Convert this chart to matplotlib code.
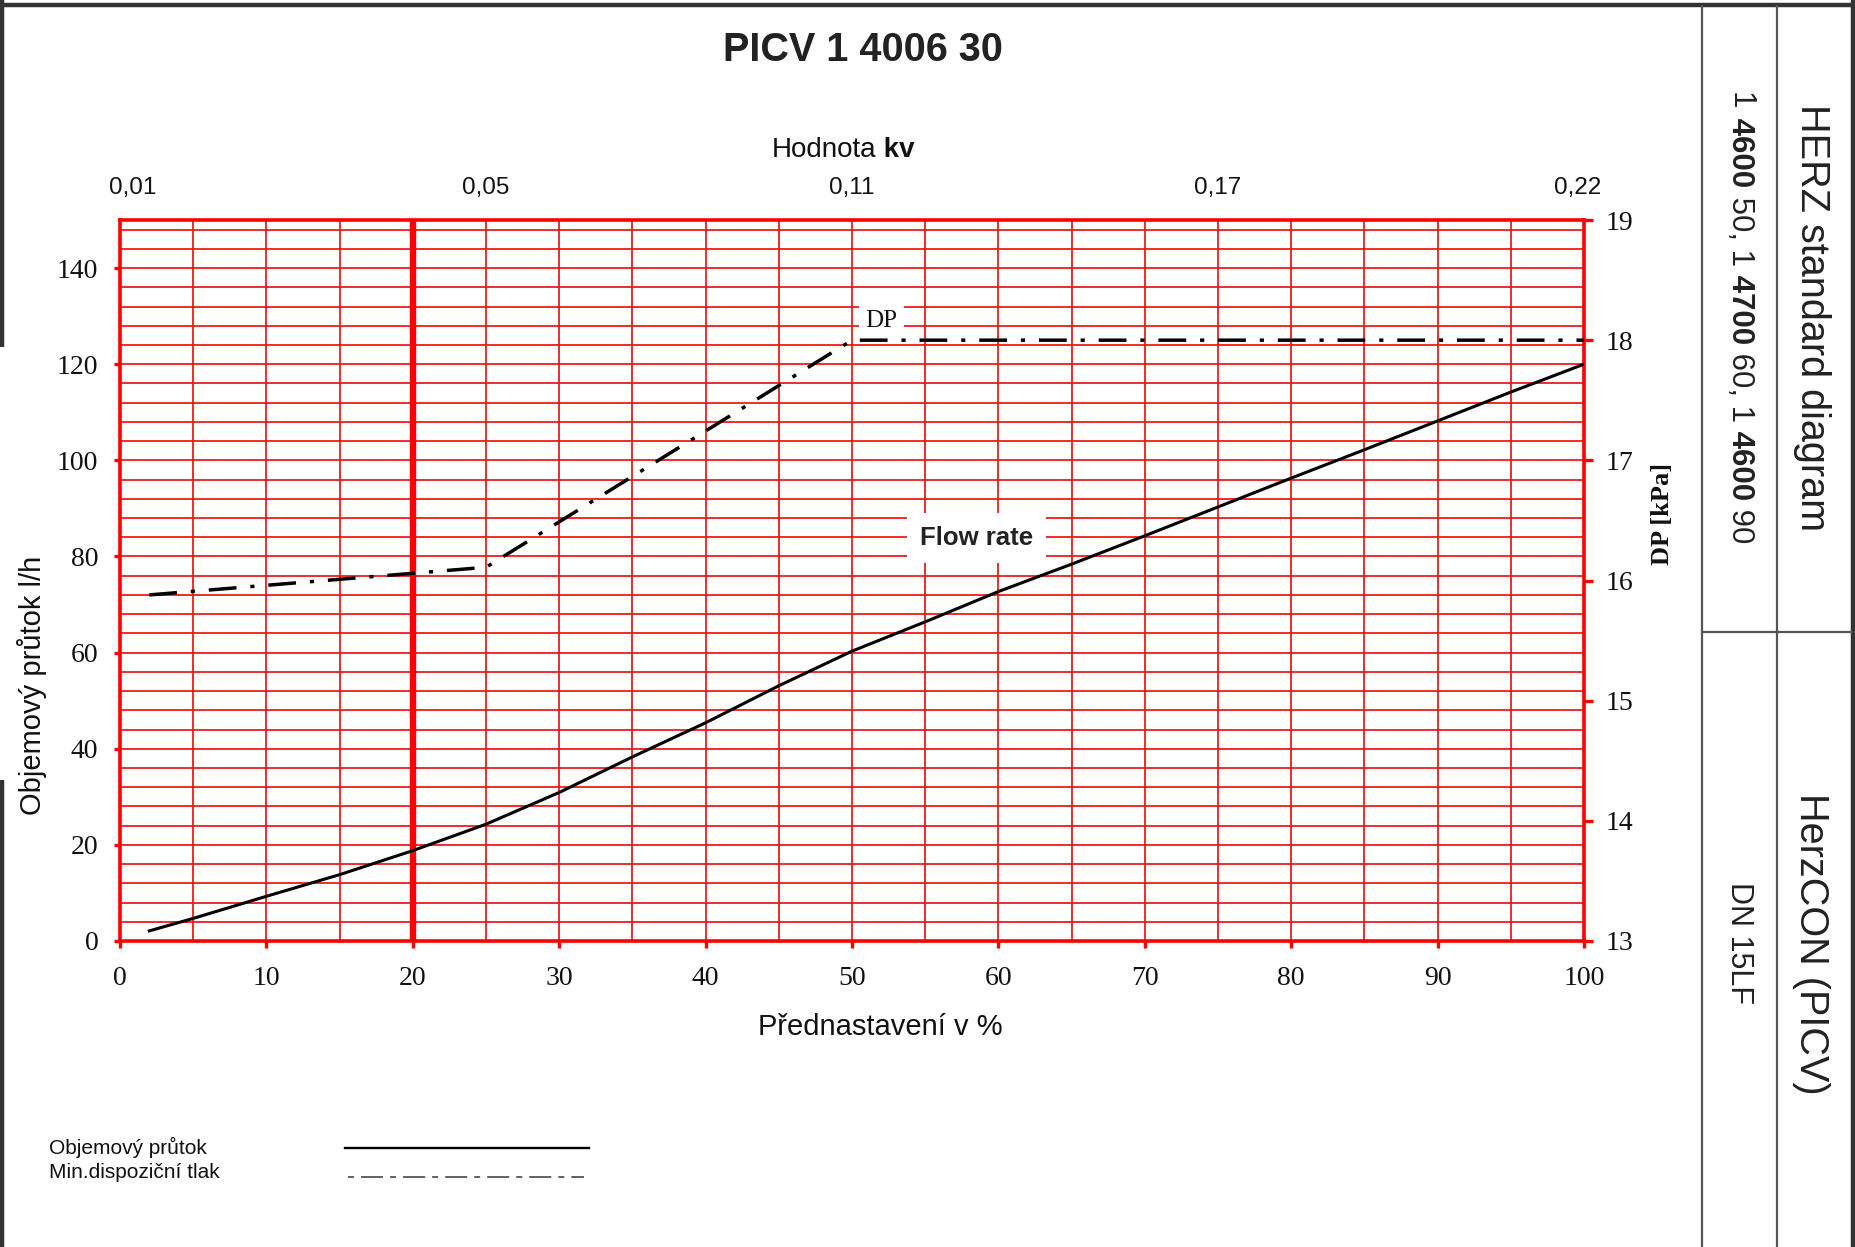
import matplotlib
matplotlib.use("Agg")
import matplotlib.pyplot as plt
from matplotlib.lines import Line2D
from matplotlib import font_manager
import matplotlib.transforms as mtransforms
import numpy as np

plt.rcParams['font.family'] = ['Liberation Sans', 'DejaVu Sans']

# ---------------- data ----------------
preset_flow = [2, 5, 10, 15, 20, 25, 30, 35, 40, 45, 50, 55, 60, 65, 70, 75, 80, 85, 90, 95, 100]
flow_lh = [2.1, 4.7, 9.3, 13.8, 18.8, 24.3, 30.9, 38.3, 45.4, 53.1, 60.3, 66.4, 72.7, 78.4,
           84.3, 90.3, 96.3, 102.2, 108.2, 114.2, 120.0]

preset_dp = [2, 25, 50, 100]
dp_kpa = [15.88, 16.11, 18.0, 18.0]

x_ticks = [0, 10, 20, 30, 40, 50, 60, 70, 80, 90, 100]
y_left_ticks = [0, 20, 40, 60, 80, 100, 120, 140]
y_right_ticks = [13, 14, 15, 16, 17, 18, 19]
kv_preset = [0, 25, 50, 75, 100]
kv_labels = ['0,01', '0,05', '0,11', '0,17', '0,22']
highlight_preset = 20

# ---------------- figure ----------------
W, H = 1856, 1247
fig = plt.figure(figsize=(W / 100, H / 100), dpi=100)


def fx(px):
    return px / W


def fy(py):
    return 1 - py / H


RED = '#ff0000'
GRID = '#f01212'
FRAME = '#333333'
SERIF = 'Liberation Serif'

installed = {f.name for f in font_manager.fontManager.ttflist}
if 'Liberation Sans Narrow' in installed:
    KV_FONT, KV_SIZE = 'Liberation Sans Narrow', 19.5
else:
    KV_FONT, KV_SIZE = 'Liberation Sans', 17.5

ax = fig.add_axes([fx(120), fy(941), fx(1584) - fx(120), fy(220) - fy(941)])
ax.set_xlim(0, 100)
ax.set_ylim(0, 150)

# grid
ax.set_xticks(x_ticks)
ax.set_xticks(np.arange(0, 101, 5), minor=True)
ax.set_yticks(y_left_ticks)
ax.set_yticks(np.arange(0, 150, 4), minor=True)
ax.grid(True, which='both', color=GRID, linewidth=1.25)
ax.set_axisbelow(True)
ax.set_xticklabels([str(t) for t in x_ticks], fontfamily=SERIF, fontsize=20, color='#111111')
ax.set_yticklabels([str(t) for t in y_left_ticks], fontfamily=SERIF, fontsize=20, color='#111111')
ax.tick_params(which='minor', length=0)
ax.tick_params(axis='x', which='major', direction='out', length=5, width=2.4, color=RED, pad=13,
               bottom=True, top=False)
ax.tick_params(axis='y', which='major', direction='out', length=4.5, width=2.4, color=RED, pad=11,
               left=True, right=False)
for s in ax.spines.values():
    s.set_color(RED)
    s.set_linewidth(2.6)

ax.axvline(highlight_preset, color=RED, linewidth=4.6, zorder=1.5)

# flow rate line
ax.plot(preset_flow, flow_lh, color='black', linewidth=2.2, zorder=3)
ax.text(58.5, 83.8, 'Flow rate', fontsize=18.5, fontweight='bold', color='#222222',
        ha='center', va='center', zorder=4,
        bbox=dict(facecolor='white', edgecolor='none', boxstyle='square,pad=0.5'))

# right axis (DP)
ax2 = ax.twinx()
ax2.set_ylim(13, 19)
ax2.set_yticks(y_right_ticks)
ax2.set_yticklabels([str(t) for t in y_right_ticks], fontfamily=SERIF, fontsize=20, color='#111111')
ax2.tick_params(axis='y', direction='out', length=6.5, width=2.4, color=RED, pad=9)
for s in ax2.spines.values():
    s.set_visible(False)
ax2.plot(preset_dp, dp_kpa, color='black', linewidth=2.5, dashes=(8, 4, 1.2, 4), zorder=3)
ax2.text(52.0, 18.16, 'DP', fontsize=18, fontfamily=SERIF, color='#111111',
         ha='center', va='center', zorder=4,
         bbox=dict(facecolor='white', edgecolor='none', boxstyle='square,pad=0.25'))

# top axis (kv)
ax3 = ax.twiny()
ax3.set_xlim(0, 100)
ax3.set_xticks(kv_preset)
ax3.set_xticklabels(kv_labels, fontsize=KV_SIZE, fontfamily=KV_FONT, color='#111111')
ax3.tick_params(axis='x', length=0, pad=15)
for s in ax3.spines.values():
    s.set_visible(False)
kv_texts = ax3.get_xticklabels()
kv_texts[0].set_transform(kv_texts[0].get_transform() +
                          mtransforms.ScaledTranslation(13 / 100, 0, fig.dpi_scale_trans))
kv_texts[-1].set_transform(kv_texts[-1].get_transform() +
                           mtransforms.ScaledTranslation(-6 / 100, 0, fig.dpi_scale_trans))

renderer = fig.canvas.get_renderer()

# title and axis labels
fig.text(fx(863), fy(50), 'PICV 1 4006 30', fontsize=28.5, fontweight='bold', color='#222222',
         ha='center', va='center')
fig.text(fx(880), fy(1027), 'Přednastavení v %', fontsize=21, color='#111111', ha='center', va='center')
fig.text(fx(32), fy(685), 'Objemový průtok l/h', fontsize=21, color='#111111', rotation=90,
         ha='center', va='center')
fig.text(fx(1663), fy(514), 'DP [kPa]', fontsize=19, fontweight='bold', fontfamily=SERIF,
         color='#111111', rotation=90, ha='center', va='center')

# "Hodnota kv"
t1 = fig.text(fx(772), fy(150), 'Hodnota', fontsize=20, color='#111111', ha='left', va='center')
bb = t1.get_window_extent(renderer)
fig.text((bb.x1) / W, fy(150), ' kv', fontsize=20, fontweight='bold', color='#111111',
         ha='left', va='center')

# right panel texts
fig.text(fx(1812), fy(318), 'HERZ standard diagram', fontsize=28.5, color='#222222', rotation=270,
         ha='center', va='center')
fig.text(fx(1811), fy(944), 'HerzCON (PICV)', fontsize=28.5, color='#222222', rotation=270,
         ha='center', va='center')
fig.text(fx(1739), fy(943), 'DN 15LF', fontsize=22, color='#222222', rotation=270,
         ha='center', va='center')

parts = [('1', 'normal'), (' 4600', 'bold'), (' 50, 1', 'normal'), (' 4700', 'bold'),
         (' 60, 1', 'normal'), (' 4600', 'bold'), (' 90', 'normal')]
ycur = 92
for txt, wgt in parts:
    t = fig.text(fx(1740), fy(ycur), txt, fontsize=22.5, fontweight=wgt, color='#222222',
                 rotation=270, rotation_mode='anchor', ha='left', va='center')
    e = t.get_window_extent(renderer)
    ycur += e.height

# frame lines
def fline(x0, y0, x1, y1, lw, color=FRAME):
    fig.add_artist(Line2D([fx(x0), fx(x1)], [fy(y0), fy(y1)], transform=fig.transFigure,
                          color=color, linewidth=lw, solid_capstyle='butt'))

fline(0, 5, 1856, 5, 3.2)
fline(1853, 0, 1853, 1247, 3.2)
fline(2, 0, 2, 347, 3.2)
fline(2, 780, 2, 1247, 3.2)
fline(1702, 5, 1702, 1247, 1.6, '#555555')
fline(1777, 5, 1777, 1247, 1.6, '#555555')
fline(1702, 632, 1853, 632, 1.6, '#555555')

# legend
fig.text(fx(49), fy(1147), 'Objemový průtok', fontsize=15, color='#111111', ha='left', va='center')
fig.text(fx(49), fy(1173), 'Min.dispoziční tlak', fontsize=15, color='#111111', ha='left', va='center')
fig.add_artist(Line2D([fx(345), fx(589)], [fy(1148), fy(1148)], transform=fig.transFigure,
                      color='black', linewidth=1.7))
fig.add_artist(Line2D([fx(348), fx(584)], [fy(1177), fy(1177)], transform=fig.transFigure,
                      color='#555555', linewidth=1.3, dashes=(3.3, 3.9, 12.2, 3.9)))

fig.savefig('out.png', dpi=100, facecolor='white')
